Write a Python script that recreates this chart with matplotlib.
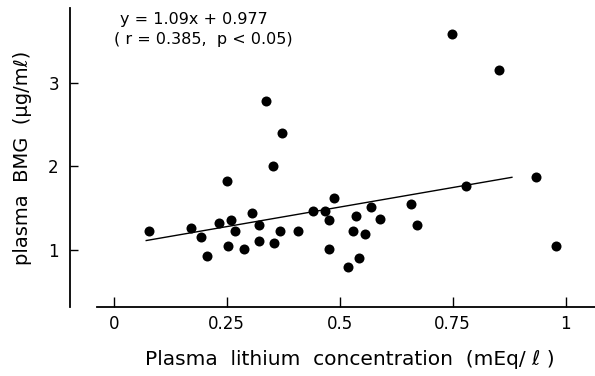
import matplotlib
matplotlib.use("Agg")
from matplotlib import pyplot as plt

# plasma lithium (mEq/l) vs plasma BMG (ug/ml)
lithium = [0.078, 0.172, 0.193, 0.206, 0.232, 0.251, 0.254, 0.259, 0.268, 0.288,
           0.306, 0.321, 0.321, 0.336, 0.352, 0.354, 0.368, 0.372, 0.408, 0.441,
           0.468, 0.476, 0.476, 0.487, 0.518, 0.529, 0.536, 0.543, 0.557, 0.569,
           0.590, 0.658, 0.672, 0.749, 0.779, 0.852, 0.935, 0.978]
bmg = [1.22, 1.26, 1.15, 0.93, 1.32, 1.83, 1.04, 1.36, 1.22, 1.01,
       1.44, 1.30, 1.11, 2.79, 2.00, 1.08, 1.22, 2.40, 1.22, 1.47,
       1.47, 1.36, 1.01, 1.62, 0.79, 1.22, 1.41, 0.90, 1.19, 1.51,
       1.37, 1.55, 1.30, 3.59, 1.76, 3.16, 1.87, 1.05]

# regression line as drawn in the figure
line_x = [0.072, 0.881]
line_y = [1.11, 1.87]

x_ticks = [0, 0.25, 0.5, 0.75, 1]
x_ticklabels = ["0", "0.25", "0.5", "0.75", "1"]
y_ticks = [1, 2, 3]

fig = plt.figure(figsize=(5.95, 3.76), dpi=100)
ax = fig.add_axes([0.1176, 0.1835, 0.8824, 0.7952])

ax.scatter(lithium, bmg, s=52, color="black", zorder=3, linewidths=0)
ax.plot(line_x, line_y, color="black", lw=1.0)

ax.set_xlim(-0.0967, 1.0648)
ax.set_ylim(0.311, 3.905)

for side in ["top", "right"]:
    ax.spines[side].set_visible(False)
ax.spines["left"].set_linewidth(1.3)
ax.spines["bottom"].set_linewidth(1.3)
ax.spines["bottom"].set_bounds(-0.037, 1.0648)

ax.set_xticks(x_ticks)
ax.set_xticklabels(x_ticklabels)
ax.set_yticks(y_ticks)
ax.tick_params(axis="x", direction="in", length=7.2, width=1.0, pad=6, labelsize=12)
ax.tick_params(axis="y", direction="in", length=6, width=1.0, pad=8, labelsize=12)

fig.text(0.326, 0.947, "y = 1.09x + 0.977", ha="center", va="center", fontsize=11.5)
fig.text(0.341, 0.894, "( r = 0.385,  p < 0.05)", ha="center", va="center", fontsize=11.5)

fig.text(0.588, 0.043, "Plasma  lithium  concentration  (mEq/ ℓ )",
         ha="center", va="center", fontsize=14.5)
fig.text(0.037, 0.58, "plasma  BMG  (μg/mℓ)", ha="center", va="center",
         rotation=90, fontsize=14)

plt.savefig("out.png", dpi=100)
